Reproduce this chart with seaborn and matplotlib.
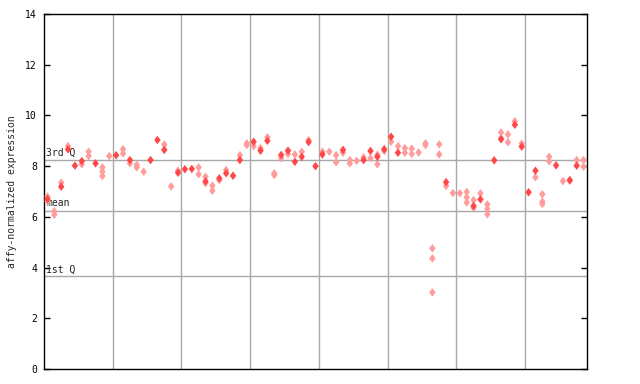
import matplotlib
matplotlib.use("Agg")
import matplotlib.pyplot as plt
from matplotlib.path import Path
import seaborn as sns
import pandas as pd

# ---- data ----
solid_idx = [0, 2, 3, 4, 5, 7, 10, 12, 15, 16, 17, 19, 20, 21, 23, 25, 26, 27, 28,
             30, 31, 32, 34, 35, 36, 37, 38, 39, 40, 43, 46, 47, 48, 49, 50, 51,
             58, 62, 63, 65, 66, 68, 69, 70, 71, 74, 76, 77]
solid_val = [6.70, 7.19, 8.66, 8.02, 8.20, 8.11, 8.43, 8.24, 8.24, 9.03, 8.64, 7.74, 7.88, 7.89, 7.40, 7.52, 7.72, 7.62, 8.24,
             8.96, 8.61, 9.00, 8.44, 8.61, 8.17, 8.37, 8.95, 8.00, 8.46, 8.64, 8.24, 8.60, 8.37, 8.67, 9.16, 8.53,
             7.37, 6.43, 6.69, 8.23, 9.06, 9.63, 8.77, 6.97, 7.82, 8.03, 7.45, 8.02]

light_idx = [0, 0, 1, 1, 2, 3, 5, 6, 6, 8, 8, 8, 9, 11, 11, 12, 13, 13, 14, 17, 18, 19,
             22, 22, 23, 23, 24, 24, 25, 26, 28, 29, 29, 30, 31, 32, 33, 33, 34, 35, 36, 37, 38,
             40, 41, 42, 42, 43, 44, 44, 45, 46, 47, 48, 48, 49, 50, 51, 52, 52, 53, 53, 54,
             55, 55, 56, 56, 56, 57, 57, 58, 59, 60, 61, 61, 61, 62, 62, 63, 64, 64, 64,
             66, 66, 67, 67, 68, 69, 71, 72, 72, 72, 73, 73, 75, 76, 77, 78, 78]
light_val = [6.80, 6.62, 6.22, 6.08, 7.35, 8.79, 8.07, 8.57, 8.40, 7.95, 7.78, 7.61, 8.40, 8.67, 8.50, 8.11, 8.05, 7.95, 7.78, 8.85, 7.20, 7.82,
             7.95, 7.68, 7.58, 7.33, 7.23, 7.03, 7.45, 7.85, 8.43, 8.90, 8.83, 8.79, 8.71, 9.14, 7.72, 7.65, 8.31, 8.48, 8.46, 8.57, 9.03,
             8.57, 8.57, 8.43, 8.15, 8.53, 8.24, 8.11, 8.21, 8.35, 8.31, 8.45, 8.07, 8.60, 8.96, 8.79, 8.71, 8.53, 8.69, 8.48, 8.54,
             8.90, 8.83, 4.76, 4.36, 3.02, 8.86, 8.46, 7.22, 6.94, 6.93, 6.98, 6.77, 6.57, 6.66, 6.36, 6.93, 6.49, 6.32, 6.10,
             9.33, 9.10, 9.25, 8.94, 9.77, 8.89, 7.56, 6.89, 6.60, 6.51, 8.37, 8.19, 7.41, 7.42, 8.24, 8.24, 7.98]

n_samples = 79
group_bounds = [10, 20, 30, 40, 50, 60, 70]
q_labels = ["3rd Q", "mean", "1st Q"]
q_values = [8.25, 6.25, 3.65]
y_ticks = [0, 2, 4, 6, 8, 10, 12, 14]
y_label = "affy-normalized expression"

solid_df = pd.DataFrame({"x": [i + 0.5 for i in solid_idx], "y": solid_val})
light_df = pd.DataFrame({"x": [i + 0.5 for i in light_idx], "y": light_val})

# ---- style ----
sns.set_style("white")
plt.rcParams["font.family"] = ["DejaVu Sans Mono", "DejaVu Sans"]

fig = plt.figure(figsize=(6.4, 3.84), dpi=100)
ax = fig.add_axes([44 / 640, 1 - 369 / 384, (587 - 44) / 640, (369 - 14) / 384])

diamond = Path([(0, 1), (0.75, 0), (0, -1), (-0.75, 0), (0, 1)],
               [Path.MOVETO, Path.LINETO, Path.LINETO, Path.LINETO, Path.CLOSEPOLY])

for b in group_bounds:
    ax.axvline(b, color="#a8a8a8", lw=1, zorder=1)
for lab, v in zip(q_labels, q_values):
    ax.axhline(v, color="#a8a8a8", lw=1, zorder=1)
    ax.text(0.3, v + 0.08, lab, fontsize=7, color="#222222", ha="left", va="bottom", zorder=3)

sns.scatterplot(data=light_df, x="x", y="y", ax=ax, marker=diamond, s=38,
                color="#ff9c9c", edgecolor="none", linewidth=0, zorder=4)
sns.scatterplot(data=solid_df, x="x", y="y", ax=ax, marker=diamond, s=38,
                color="#ff4747", edgecolor="none", linewidth=0, zorder=5)

ax.set_xlim(0, n_samples)
ax.set_ylim(0, 14)
ax.set_xticks([])
ax.set_yticks(y_ticks)
ax.set_yticklabels([str(t) for t in y_ticks])
ax.tick_params(axis="y", direction="in", length=4.5, width=1, left=True, right=True,
               labelsize=7, pad=5, colors="black")
ax.set_xlabel("")
ax.set_ylabel(y_label, fontsize=7, labelpad=6)
for s in ax.spines.values():
    s.set_visible(True)
    s.set_color("black")
    s.set_linewidth(1)

fig.savefig("out.png", dpi=100)
